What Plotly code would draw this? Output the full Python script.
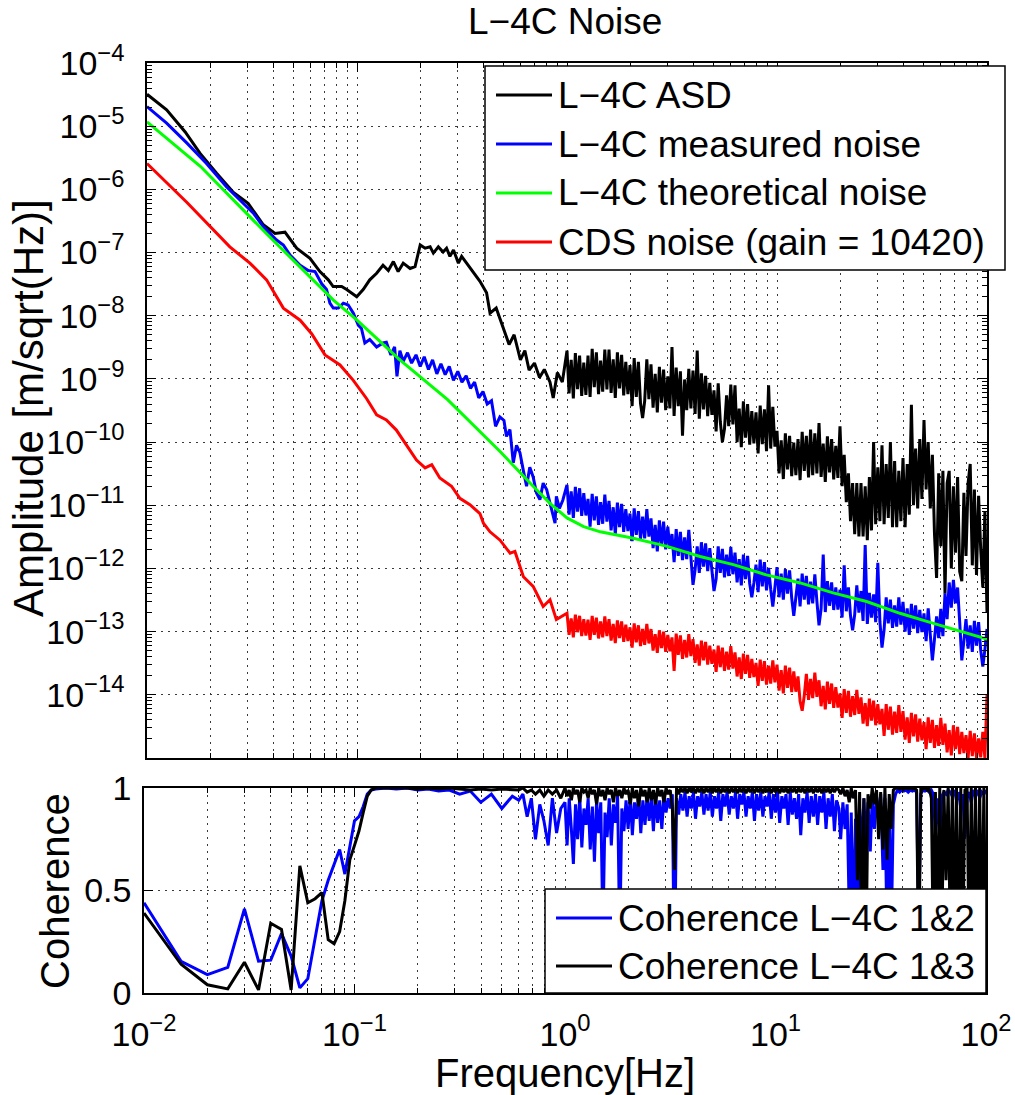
import plotly.graph_objects as go

# ---------------- data ----------------
# shared dense frequency grid 1..100 Hz
f_hi = [1.0, 1.023, 1.047, 1.072, 1.096, 1.122, 1.148, 1.175, 1.202, 1.23,
        1.259, 1.288, 1.318, 1.349, 1.38, 1.413, 1.445, 1.479, 1.514, 1.549,
        1.585, 1.622, 1.66, 1.698, 1.738, 1.778, 1.82, 1.862, 1.905, 1.95,
        1.995, 2.042, 2.089, 2.138, 2.188, 2.239, 2.291, 2.344, 2.399, 2.455,
        2.512, 2.57, 2.63, 2.692, 2.754, 2.818, 2.884, 2.951, 3.02, 3.09,
        3.162, 3.236, 3.311, 3.388, 3.467, 3.548, 3.631, 3.715, 3.802, 3.89,
        3.981, 4.074, 4.169, 4.266, 4.365, 4.467, 4.571, 4.677, 4.786, 4.898,
        5.012, 5.129, 5.248, 5.37, 5.495, 5.623, 5.754, 5.888, 6.026, 6.166,
        6.31, 6.457, 6.607, 6.761, 6.918, 7.079, 7.244, 7.413, 7.586, 7.762,
        7.943, 8.128, 8.318, 8.511, 8.71, 8.913, 9.12, 9.333, 9.55, 9.772,
        10.0, 10.23, 10.47, 10.72, 10.96, 11.22, 11.48, 11.75, 12.02, 12.3,
        12.59, 12.88, 13.18, 13.49, 13.8, 14.13, 14.45, 14.79, 15.14, 15.49,
        15.85, 16.22, 16.6, 16.98, 17.38, 17.78, 18.2, 18.62, 19.05, 19.5,
        19.95, 20.42, 20.89, 21.38, 21.88, 22.39, 22.91, 23.44, 23.99, 24.55,
        25.12, 25.7, 26.3, 26.92, 27.54, 28.18, 28.84, 29.51, 30.2, 30.9,
        31.62, 32.36, 33.11, 33.88, 34.67, 35.48, 36.31, 37.15, 38.02, 38.9,
        39.81, 40.74, 41.69, 42.66, 43.65, 44.67, 45.71, 46.77, 47.86, 48.98,
        50.12, 51.29, 52.48, 53.7, 54.95, 56.23, 57.54, 58.88, 60.26, 61.66,
        63.1, 64.57, 66.07, 67.61, 69.18, 70.79, 72.44, 74.13, 75.86, 77.62,
        79.43, 81.28, 83.18, 85.11, 87.1, 89.13, 91.2, 93.33, 95.5, 97.72,
        100.0]

# L-4C ASD (black)
asd_lo_f = [0.01, 0.0124, 0.0152, 0.0179, 0.0215, 0.0258, 0.0303, 0.0358, 0.0407, 0.0454,
            0.0516, 0.0597, 0.0666, 0.073, 0.077, 0.0845, 0.0893, 0.0997, 0.107, 0.115,
            0.124, 0.133, 0.141, 0.149, 0.157, 0.166, 0.179, 0.189, 0.2, 0.211,
            0.223, 0.231, 0.244, 0.257, 0.267, 0.277, 0.288, 0.304, 0.315, 0.333,
            0.358, 0.385, 0.414, 0.43, 0.46, 0.50, 0.53, 0.56, 0.60, 0.63,
            0.66, 0.70, 0.74, 0.78, 0.83, 0.86, 0.90, 0.95]
asd_lo = [3.2e-5, 1.82e-5, 8.1e-6, 3.7e-6, 1.78e-6, 8.9e-7, 6.0e-7, 2.75e-7, 2.0e-7, 2.1e-7,
          1.17e-7, 8.1e-8, 5.0e-8, 3.7e-8, 2.9e-8, 2.9e-8, 2.6e-8, 2.0e-8, 2.6e-8, 3.7e-8,
          4.7e-8, 6.3e-8, 5.2e-8, 7.2e-8, 5.0e-8, 6.8e-8, 5.6e-8, 6.0e-8, 1.32e-7, 1.17e-7,
          1.23e-7, 9.8e-8, 1.23e-7, 1.02e-7, 1.17e-7, 8.7e-8, 1.1e-7, 6.8e-8, 8.7e-8, 6.8e-8,
          5.0e-8, 3.5e-8, 2.3e-8, 1.1e-8, 1.32e-8, 6.0e-9, 3.5e-9, 5.0e-9, 2.0e-9, 2.8e-9,
          1.38e-9, 1.78e-9, 1.05e-9, 1.41e-9, 8.9e-10, 5.0e-10, 1.26e-9, 8.9e-10]
asd_hi = [2.8e-9, 5.9e-10, 2.0e-9, 4.9e-10, 2.57e-9, 6.9e-10, 2.34e-9, 5.4e-10, 1.82e-9, 5.6e-10,
          2.34e-9, 5.2e-10, 3.0e-9, 7.4e-10, 2.63e-9, 5.75e-10, 1.95e-9, 6.3e-10, 2.9e-9, 6.8e-10,
          2.9e-9, 6.0e-10, 2.04e-9, 5.0e-10, 2.63e-9, 7.1e-10, 2.4e-9, 5.5e-10, 1.86e-9, 5.75e-10,
          1.66e-9, 3.7e-10, 2.14e-9, 5.2e-10, 1.86e-9, 4.1e-10, 2.4e-10, 4.5e-10, 2.04e-9, 4.8e-10,
          1.7e-9, 3.5e-10, 1.2e-9, 2.95e-10, 1.55e-9, 4.2e-10, 1.41e-9, 3.2e-10, 1.1e-9, 3.4e-10,
          3.2e-9, 2.6e-10, 1.51e-9, 3.7e-10, 1.32e-9, 1.26e-10, 9.8e-10, 3.2e-10, 1.45e-9, 3.4e-10,
          1.35e-9, 2.8e-10, 2.8e-9, 2.34e-10, 1.23e-9, 3.3e-10, 1.12e-9, 2.57e-10, 8.7e-10, 2.7e-10,
          6.6e-10, 1.48e-10, 8.5e-10, 2.1e-10, 1.0e-10, 1.62e-10, 5.5e-10, 1.78e-10, 8.1e-10, 1.91e-10,
          7.9e-10, 1.0e-10, 3.4e-10, 8.3e-11, 4.4e-10, 1.17e-10, 4.0e-10, 9.1e-11, 3.1e-10, 9.5e-11,
          2.95e-10, 6.6e-11, 3.8e-10, 9.3e-11, 3.3e-10, 7.2e-11, 7.9e-10, 7.9e-11, 3.6e-10, 8.5e-11,
          1.51e-10, 3.2e-11, 1.07e-10, 2.6e-11, 1.38e-10, 3.7e-11, 1.26e-10, 2.9e-11, 9.8e-11, 3.0e-11,
          1.12e-10, 2.5e-11, 1.45e-10, 3.5e-11, 1.26e-10, 2.75e-11, 1.58e-10, 3.0e-11, 1.38e-10, 3.2e-11,
          2.0e-10, 2.8e-11, 9.5e-11, 2.34e-11, 1.23e-10, 3.3e-11, 1.12e-10, 2.57e-11, 8.7e-11, 2.7e-11,
          1.78e-10, 2.0e-11, 6.3e-11, 1.12e-11, 3.2e-11, 5.6e-12, 2.24e-11, 3.5e-12, 2.24e-11, 3.2e-12,
          2.24e-11, 3.2e-12, 2.0e-11, 2.8e-12, 2.8e-11, 4.0e-12, 1.0e-10, 5.0e-12, 4.0e-11, 5.6e-12,
          8.9e-11, 5.0e-12, 4.5e-11, 6.3e-12, 1.0e-10, 4.5e-12, 5.0e-11, 4.5e-12, 3.5e-11, 5.6e-12,
          5.6e-11, 4.5e-12, 4.5e-11, 7.1e-12, 3.9e-10, 1.0e-11, 7.9e-11, 8.9e-12, 1.12e-10, 1.26e-11,
          2.24e-10, 1.78e-11, 1.0e-10, 8.9e-12, 6.3e-11, 3.5e-12, 7.1e-13, 3.2e-11, 2.24e-12, 3.5e-11,
          4.0e-13, 2.24e-11, 3.5e-11, 1.0e-12, 2.0e-11, 1.78e-12, 2.8e-11, 8.9e-13, 6.3e-13, 1.58e-11,
          1.58e-12, 2.24e-11, 4.5e-11, 1.12e-12, 1.78e-11, 7.9e-13, 1.41e-11, 2.0e-12, 5.0e-13, 7.9e-12,
          2.0e-13]

# L-4C measured noise (blue)
meas_lo_f = [0.01, 0.0124, 0.0155, 0.0192, 0.0239, 0.0277, 0.0321, 0.0358, 0.0414, 0.0446,
             0.048, 0.0536, 0.0586, 0.0631, 0.0679, 0.0716, 0.0743, 0.0771, 0.0815, 0.0861,
             0.0908, 0.0961, 0.1014, 0.105, 0.109, 0.115, 0.124, 0.133, 0.138, 0.145,
             0.151, 0.155, 0.16, 0.166, 0.174, 0.182, 0.191, 0.2, 0.209, 0.219,
             0.229, 0.24, 0.251, 0.263, 0.275, 0.288, 0.302, 0.316, 0.331, 0.347,
             0.363, 0.38, 0.398, 0.417, 0.437, 0.457, 0.479, 0.501, 0.515, 0.535,
             0.555, 0.575, 0.597, 0.62, 0.642, 0.665, 0.69, 0.715, 0.743, 0.77,
             0.80, 0.835, 0.877, 0.89, 0.92, 0.955]
meas_lo = [2.04e-5, 1.12e-5, 5.4e-6, 2.57e-6, 1.1e-6, 6.8e-7, 4.2e-7, 2.57e-7, 1.58e-7, 1.32e-7,
           9.1e-8, 6.3e-8, 5.2e-8, 5.0e-8, 3.2e-8, 2.6e-8, 1.58e-8, 1.32e-8, 1.32e-8, 1.58e-8,
           1.48e-8, 1.1e-8, 7.1e-9, 6.3e-9, 3.7e-9, 4.2e-9, 3.2e-9, 3.7e-9, 3.8e-9, 2.4e-9,
           3.2e-9, 1.1e-9, 2.8e-9, 1.9e-9, 2.6e-9, 1.78e-9, 2.4e-9, 1.58e-9, 2.24e-9, 1.41e-9,
           2.0e-9, 1.2e-9, 1.74e-9, 1.17e-9, 1.58e-9, 9.5e-10, 1.32e-9, 8.9e-10, 1.12e-9, 7.1e-10,
           8.9e-10, 5.0e-10, 6.3e-10, 4.0e-10, 4.5e-10, 1.78e-10, 2.5e-10, 2.2e-10, 1.23e-10, 1.58e-10,
           4.7e-11, 8.9e-11, 6.8e-11, 3.5e-11, 2.0e-11, 4.0e-11, 2.8e-11, 1.58e-11, 1.23e-11, 2.24e-11,
           1.78e-11, 1.0e-11, 5.2e-12, 1.38e-11, 8.9e-12, 1.2e-11]
meas_hi = [2.1e-11, 7.1e-12, 1.66e-11, 6.3e-12, 1.95e-11, 7.9e-12, 1.86e-11, 6.8e-12, 1.55e-11, 6.9e-12,
           1.26e-11, 4.6e-12, 1.51e-11, 5.75e-12, 1.38e-11, 4.9e-12, 1.12e-11, 5.1e-12, 1.48e-11, 5.5e-12,
           1.17e-11, 4.0e-12, 9.3e-12, 3.5e-12, 1.1e-11, 4.5e-12, 1.05e-11, 3.8e-12, 8.7e-12, 3.9e-12,
           7.4e-12, 2.7e-12, 8.9e-12, 3.4e-12, 8.1e-12, 2.9e-12, 6.6e-12, 3.0e-12, 8.7e-12, 3.2e-12,
           6.2e-12, 2.1e-12, 4.9e-12, 1.86e-12, 5.75e-12, 2.34e-12, 5.5e-12, 2.0e-12, 4.6e-12, 2.04e-12,
           3.5e-12, 1.26e-12, 4.2e-12, 1.58e-12, 3.8e-12, 1.35e-12, 3.1e-12, 1.41e-12, 4.1e-12, 1.51e-12,
           5.5e-13, 9.5e-13, 2.24e-12, 8.5e-13, 2.6e-12, 1.07e-12, 2.5e-12, 9.1e-13, 2.1e-12, 9.3e-13,
           4.4e-13, 6.8e-13, 2.24e-12, 8.5e-13, 2.04e-12, 7.2e-13, 1.66e-12, 7.6e-13, 2.2e-12, 8.1e-13,
           1.78e-12, 6.0e-13, 1.41e-12, 5.4e-13, 1.66e-12, 6.8e-13, 1.58e-12, 5.75e-13, 3.5e-13, 5.9e-13,
           1.15e-12, 4.2e-13, 1.38e-12, 5.2e-13, 1.26e-12, 4.5e-13, 1.02e-12, 4.7e-13, 2.5e-13, 5.0e-13,
           1.05e-12, 3.5e-13, 8.3e-13, 3.2e-13, 9.8e-13, 4.0e-13, 9.3e-13, 3.4e-13, 1.78e-13, 3.5e-13,
           6.9e-13, 2.5e-13, 8.3e-13, 3.2e-13, 7.6e-13, 2.7e-13, 6.2e-13, 2.8e-13, 8.1e-13, 3.0e-13,
           1.26e-13, 2.3e-13, 1.66e-12, 2.04e-13, 6.3e-13, 2.57e-13, 6.0e-13, 2.2e-13, 5.0e-13, 2.24e-13,
           4.6e-13, 1.66e-13, 1.12e-12, 2.1e-13, 5.0e-13, 1.78e-13, 1.05e-13, 1.86e-13, 5.4e-13, 2.0e-13,
           4.4e-13, 1.48e-13, 2.34e-12, 1.32e-13, 4.1e-13, 1.66e-13, 3.9e-13, 1.41e-13, 1.23e-12, 1.45e-13,
           5.6e-14, 1.07e-13, 3.5e-13, 1.35e-13, 3.2e-13, 1.15e-13, 2.6e-13, 1.2e-13, 3.5e-13, 1.29e-13,
           2.95e-13, 1.0e-13, 2.34e-13, 8.9e-14, 2.75e-13, 1.12e-13, 2.6e-13, 9.5e-14, 2.2e-13, 9.8e-14,
           1.95e-13, 7.1e-14, 2.34e-13, 8.9e-14, 3.5e-14, 7.6e-14, 1.74e-13, 7.9e-14, 2.3e-13, 8.5e-14,
           4.0e-13, 1.58e-13, 6.0e-13, 2.4e-13, 6.6e-13, 2.8e-13, 5.0e-13, 1.41e-13, 3.5e-14, 7.1e-14,
           1.58e-13, 5.4e-14, 1.26e-13, 4.8e-14, 1.48e-13, 6.0e-14, 1.41e-13, 5.1e-14, 2.8e-14, 5.2e-14,
           1.1e-13]

# L-4C theoretical noise (green)
theo_f = [0.01, 0.018, 0.037, 0.077, 0.1, 0.16, 0.27, 0.48, 0.69, 0.83,
          1.0, 1.2, 1.44, 2.07, 3.0, 4.3, 6.2, 8.9, 12.9, 18.5,
          26.7, 38.5, 55.6, 80.0, 100.0]
theo = [1.17e-5, 2.3e-6, 2.0e-7, 1.78e-8, 8.5e-9, 2.0e-9, 4.7e-10, 7.1e-11, 2.0e-11, 1.07e-11,
        6.3e-12, 4.6e-12, 3.8e-12, 3.0e-12, 2.24e-12, 1.55e-12, 1.15e-12, 7.9e-13, 5.9e-13, 4.1e-13,
        3.0e-13, 1.95e-13, 1.35e-13, 9.5e-14, 7.6e-14]

# CDS noise (red)
cds_lo_f = [0.01, 0.0155, 0.0248, 0.0309, 0.0371, 0.0446, 0.0536, 0.0608, 0.0704, 0.083,
            0.096, 0.111, 0.124, 0.138, 0.154, 0.173, 0.192, 0.211, 0.227, 0.248,
            0.282, 0.309, 0.345, 0.385, 0.40, 0.43, 0.48, 0.536, 0.565, 0.62,
            0.69, 0.77, 0.83, 0.89]
cds_lo = [2.57e-6, 6.2e-7, 1.23e-7, 6.8e-8, 3.7e-8, 1.32e-8, 8.5e-9, 5.2e-9, 2.4e-9, 1.66e-9,
          9.5e-10, 4.9e-10, 2.7e-10, 2.24e-10, 1.55e-10, 8.5e-11, 5.2e-11, 3.9e-11, 4.4e-11, 2.7e-11,
          2.0e-11, 1.29e-11, 1.02e-11, 7.4e-12, 5.2e-12, 3.8e-12, 2.8e-12, 1.74e-12, 1.86e-12, 7.4e-13,
          5.2e-13, 2.5e-13, 3.2e-13, 1.55e-13]
cds_hi = [1.95e-13, 8.9e-14, 1.62e-13, 8.1e-14, 1.86e-13, 9.8e-14, 1.78e-13, 8.5e-14, 1.58e-13, 8.7e-14,
          1.55e-13, 7.4e-14, 1.78e-13, 8.9e-14, 1.66e-13, 7.8e-14, 1.45e-13, 8.1e-14, 1.74e-13, 8.5e-14,
          1.58e-13, 7.2e-14, 1.32e-13, 6.6e-14, 1.51e-13, 7.9e-14, 1.45e-13, 6.9e-14, 1.29e-13, 7.1e-14,
          1.17e-13, 5.6e-14, 1.35e-13, 6.8e-14, 1.26e-13, 5.9e-14, 1.1e-13, 6.2e-14, 1.32e-13, 6.5e-14,
          1.1e-13, 5.0e-14, 9.1e-14, 4.6e-14, 1.05e-13, 5.5e-14, 1.0e-13, 4.8e-14, 8.9e-14, 4.9e-14,
          8.1e-14, 2.4e-14, 9.3e-14, 4.3e-14, 8.7e-14, 3.7e-14, 7.4e-14, 3.9e-14, 9.1e-14, 4.1e-14,
          7.6e-14, 3.2e-14, 6.3e-14, 2.9e-14, 7.2e-14, 3.5e-14, 6.9e-14, 3.0e-14, 6.0e-14, 3.1e-14,
          5.2e-14, 2.3e-14, 6.0e-14, 2.75e-14, 5.6e-14, 2.4e-14, 4.8e-14, 2.5e-14, 5.9e-14, 2.6e-14,
          4.7e-14, 1.95e-14, 3.9e-14, 1.78e-14, 4.5e-14, 2.14e-14, 4.3e-14, 1.86e-14, 3.7e-14, 1.91e-14,
          3.2e-14, 1.38e-14, 3.6e-14, 1.66e-14, 3.4e-14, 1.45e-14, 2.9e-14, 1.51e-14, 3.5e-14, 1.58e-14,
          3.0e-14, 1.17e-14, 2.45e-14, 1.05e-14, 2.9e-14, 1.29e-14, 2.7e-14, 1.1e-14, 2.34e-14, 1.12e-14,
          1.95e-14, 7.9e-15, 5.6e-15, 9.8e-15, 2.14e-14, 8.3e-15, 1.78e-14, 8.9e-15, 2.24e-14, 9.3e-15,
          1.7e-14, 6.6e-15, 1.38e-14, 5.9e-15, 1.62e-14, 7.2e-15, 1.51e-14, 6.2e-15, 1.32e-14, 6.3e-15,
          1.05e-14, 4.3e-15, 1.23e-14, 5.2e-15, 1.15e-14, 4.5e-15, 9.5e-15, 4.8e-15, 1.2e-14, 5.0e-15,
          9.1e-15, 3.5e-15, 7.4e-15, 3.2e-15, 8.7e-15, 3.9e-15, 8.1e-15, 3.3e-15, 7.1e-15, 3.4e-15,
          6.0e-15, 2.24e-15, 7.1e-15, 2.8e-15, 6.5e-15, 2.34e-15, 5.4e-15, 2.5e-15, 6.9e-15, 2.6e-15,
          5.5e-15, 1.95e-15, 4.4e-15, 1.74e-15, 5.2e-15, 2.2e-15, 4.9e-15, 1.82e-15, 4.2e-15, 1.91e-15,
          3.7e-15, 1.38e-15, 4.4e-15, 1.74e-15, 4.0e-15, 1.45e-15, 3.3e-15, 1.55e-15, 4.3e-15, 1.62e-15,
          3.5e-15, 1.23e-15, 2.75e-15, 1.1e-15, 3.3e-15, 1.38e-15, 3.1e-15, 1.15e-15, 2.6e-15, 1.2e-15,
          2.3e-15, 1.0e-15, 2.7e-15, 1.07e-15, 2.45e-15, 1.0e-15, 2.04e-15, 1.02e-15, 2.6e-15, 1.0e-15,
          1.0e-14]

# coherence frequency grid (the 1..19.5 Hz part re-uses f_hi)
coh_f_lo = [0.01, 0.015, 0.02, 0.025, 0.03, 0.035, 0.04, 0.045, 0.05, 0.055,
            0.06, 0.065, 0.07, 0.075, 0.08, 0.085, 0.09, 0.095, 0.1, 0.105,
            0.11, 0.115, 0.12]
coh_f_mid = [0.126, 0.141, 0.158, 0.178, 0.2, 0.224, 0.251, 0.282, 0.316, 0.355,
             0.398, 0.447, 0.501, 0.562, 0.603, 0.631, 0.661, 0.692, 0.724, 0.759,
             0.794, 0.832, 0.871, 0.912, 0.955]
coh_f_top = [20.0, 20.4, 20.9, 21.4, 21.9, 22.4, 22.9, 23.4, 24.0, 24.5,
             25.1, 25.7, 26.3, 26.9, 27.5, 28.2, 28.8, 29.5, 30.2, 30.9,
             31.6, 32.4, 33.1, 33.9, 34.7, 35.5, 36.3, 37.2, 38.0, 38.9,
             39.8, 40.7, 41.7, 42.7, 43.7, 44.7, 45.7, 46.8, 47.9, 49.0,
             50.1, 51.3, 52.5, 53.7, 55.0, 56.2, 57.5, 58.9, 60.3, 61.7,
             63.1, 64.6, 66.1, 67.6, 69.2, 70.8, 72.4, 74.1, 75.9, 77.6,
             79.4, 81.3, 83.2, 85.1, 87.1, 89.1, 91.2, 93.3, 95.5, 97.7,
             100.0]

# Coherence L-4C 1&2 (blue)
coh12_lo = [0.44, 0.155, 0.09, 0.125, 0.41, 0.155, 0.16, 0.29, 0.18, 0.025,
            0.07, 0.26, 0.45, 0.55, 0.63, 0.70, 0.58, 0.72, 0.84, 0.86,
            0.91, 0.97, 0.99]
coh12_mid = [0.995, 1.0, 0.995, 1.0, 0.99, 0.995, 0.985, 0.99, 0.97, 0.985,
             0.93, 0.97, 0.90, 0.96, 0.94, 0.97, 0.86, 0.95, 0.75, 0.92,
             0.84, 0.72, 0.95, 0.78, 0.90]
coh12_hi = [0.93, 0.72, 0.95, 0.80, 0.63, 0.92, 0.75, 0.96, 0.71, 0.90,
            0.82, 0.95, 0.70, 0.91, 0.64, 0.94, 0.78, 0.93, 0.30, 0.88,
            0.76, 0.95, 0.72, 0.92, 0.83, 0.96, 0.25, 0.90, 0.79, 0.94,
            0.80, 0.96, 0.77, 0.93, 0.85, 0.97, 0.78, 0.94, 0.82, 0.96,
            0.84, 0.95, 0.79, 0.97, 0.83, 0.94, 0.80, 0.96, 0.88, 0.95,
            0.90, 0.97, 0.05, 0.95, 0.87, 0.97, 0.89, 0.98, 0.86, 0.96,
            0.90, 0.98, 0.85, 0.96, 0.91, 0.98, 0.87, 0.97, 0.89, 0.98,
            0.86, 0.96, 0.90, 0.98, 0.84, 0.97, 0.91, 0.98, 0.87, 0.96,
            0.90, 0.98, 0.85, 0.97, 0.92, 0.98, 0.86, 0.96, 0.90, 0.98,
            0.84, 0.97, 0.89, 0.98, 0.86, 0.96, 0.91, 0.98, 0.85, 0.97,
            0.88, 0.98, 0.83, 0.96, 0.90, 0.97, 0.82, 0.98, 0.87, 0.95,
            0.85, 0.97, 0.77, 0.95, 0.88, 0.98, 0.83, 0.96, 0.86, 0.97,
            0.82, 0.96, 0.88, 0.98, 0.80, 0.95, 0.86, 0.97, 0.79, 0.94]
coh12_top = [0.90, 0.75, 0.93, 0.80, 0.92, 0.40, 0.88, 0.30, 0.85, 0.20,
             0.90, 0.70, 0.95, 0.72, 0.93, 0.69, 0.95, 0.80, 0.96, 0.84,
             0.97, 0.60, 0.95, 0.25, 0.90, 0.30, 0.92, 0.97, 0.99, 0.98,
             0.99, 0.985, 0.99, 0.98, 0.99, 0.985, 0.99, 0.98, 0.30, 0.97,
             0.99, 0.985, 0.99, 0.98, 0.99, 0.97, 0.78, 0.95, 0.77, 0.96,
             0.98, 0.97, 0.99, 0.98, 0.96, 0.99, 0.94, 0.98, 0.90, 0.97,
             0.76, 0.95, 0.98, 0.93, 0.99, 0.96, 0.99, 0.95, 0.98, 0.97,
             0.99]

# Coherence L-4C 1&3 (black)
coh13_lo = [0.39, 0.14, 0.04, 0.02, 0.15, 0.015, 0.34, 0.31, 0.015, 0.62,
            0.44, 0.46, 0.49, 0.26, 0.24, 0.30, 0.45, 0.65, 0.72, 0.79,
            0.88, 0.96, 0.99]
coh13_mid = [1.0, 1.0, 1.0, 1.0, 0.995, 1.0, 0.995, 1.0, 0.995, 0.99,
             0.995, 0.99, 0.995, 0.99, 0.99, 1.0, 0.98, 0.99, 0.97, 0.99,
             0.96, 0.99, 0.97, 0.99, 0.95]
coh13_hi = [1.0, 0.96, 0.99, 0.94, 1.0, 0.97, 0.99, 0.93, 1.0, 0.98,
            0.99, 0.95, 1.0, 0.97, 0.99, 0.92, 1.0, 0.96, 0.99, 0.94,
            1.0, 0.97, 0.99, 0.93, 1.0, 0.96, 0.99, 0.95, 1.0, 0.97,
            0.99, 0.92, 1.0, 0.95, 0.99, 0.91, 1.0, 0.96, 0.99, 0.93,
            1.0, 0.94, 0.99, 0.92, 1.0, 0.96, 0.99, 0.93, 1.0, 0.97,
            0.99, 0.90, 0.60, 1.0, 0.97, 1.0, 0.98, 1.0, 0.975, 1.0,
            0.98, 1.0, 0.975, 1.0, 0.98, 1.0, 0.975, 1.0, 0.98, 1.0,
            0.975, 1.0, 0.98, 1.0, 0.975, 1.0, 0.98, 1.0, 0.975, 1.0,
            0.98, 1.0, 0.975, 1.0, 0.98, 1.0, 0.975, 1.0, 0.98, 1.0,
            0.975, 1.0, 0.98, 1.0, 0.975, 1.0, 0.98, 1.0, 0.975, 1.0,
            0.98, 1.0, 0.975, 1.0, 0.98, 1.0, 0.975, 1.0, 0.98, 1.0,
            0.975, 1.0, 0.98, 1.0, 0.975, 1.0, 0.98, 1.0, 0.975, 1.0,
            0.98, 1.0, 0.975, 1.0, 0.98, 1.0, 0.975, 1.0, 0.98, 1.0]
coh13_top = [0.99, 0.97, 1.0, 0.96, 0.99, 0.93, 1.0, 0.95, 0.99, 0.55,
             0.98, 0.20, 0.95, 0.15, 0.97, 0.90, 1.0, 0.92, 0.99, 0.75,
             0.98, 0.70, 1.0, 0.65, 0.97, 0.80, 0.99, 1.0, 1.0, 0.995,
             1.0, 0.995, 1.0, 0.995, 1.0, 0.995, 1.0, 0.99, 0.10, 1.0,
             0.995, 1.0, 0.99, 1.0, 0.95, 0.20, 0.98, 0.25, 1.0, 0.30,
             0.99, 0.55, 1.0, 0.30, 1.0, 0.20, 1.0, 0.15, 1.0, 0.20,
             0.99, 1.0, 0.15, 1.0, 0.25, 1.0, 0.15, 1.0, 0.20, 1.0,
             0.10]

# legend labels and tick labels
top_names = ["L\u22124C ASD", "L\u22124C measured noise", "L\u22124C theoretical noise",
             "CDS noise (gain = 10420)"]
top_colors = ["#000000", "#0000ff", "#00ff00", "#ff0000"]
coh_names = ["Coherence L\u22124C 1&2", "Coherence L\u22124C 1&3"]
coh_colors = ["#0000ff", "#000000"]
amp_tick_exp = [-14, -13, -12, -11, -10, -9, -8, -7, -6, -5, -4]
freq_tick_exp = [-2, -1, 0, 1, 2]
coh_ticks = [0, 0.5, 1]
coh_tick_text = ["0", "0.5", "1"]

# ---------------- figure ----------------
W, H = 1015, 1095
FONT = "Liberation Sans, Arial, Helvetica, sans-serif"


def px(xp):
    return xp / W


def py(yp):
    return 1 - yp / H


def join(a_f, a_v, b_f, b_v):
    n1 = min(len(a_f), len(a_v))
    n2 = min(len(b_f), len(b_v))
    return list(a_f[:n1]) + list(b_f[:n2]), list(a_v[:n1]) + list(b_v[:n2])


fig = go.Figure()

top_series = [join(asd_lo_f, asd_lo, f_hi, asd_hi),
              join(meas_lo_f, meas_lo, f_hi, meas_hi),
              (theo_f, theo),
              join(cds_lo_f, cds_lo, f_hi, cds_hi)]
for (x, y), name, col in zip(top_series, top_names, top_colors):
    fig.add_trace(go.Scatter(x=x, y=y, mode="lines", name=name, showlegend=False,
                             line=dict(color=col, width=3), xaxis="x", yaxis="y"))

coh_f = coh_f_lo + coh_f_mid + f_hi[:130] + coh_f_top
coh_series = [coh12_lo + coh12_mid + coh12_hi + coh12_top,
              coh13_lo + coh13_mid + coh13_hi + coh13_top]
for vals, name, col in zip(coh_series, coh_names, coh_colors):
    n = min(len(coh_f), len(vals))
    fig.add_trace(go.Scatter(x=coh_f[:n], y=vals[:n], mode="lines", name=name, showlegend=False,
                             line=dict(color=col, width=3), xaxis="x2", yaxis="y2"))

minor_x = [m * 10.0 ** e for e in range(-2, 2) for m in range(2, 10)]
minor_y = [m * 10.0 ** e for e in range(-15, -4) for m in range(2, 10)]
GRID = "#3a3a3a"
DASH = "1.5px,5.5px"

axis_common = dict(showline=True, linecolor="black", linewidth=1.5, mirror="ticks",
                   ticks="inside", ticklen=9, tickwidth=1.2, tickcolor="black",
                   showgrid=True, gridcolor=GRID, griddash=DASH, gridwidth=1,
                   zeroline=False, automargin=False,
                   tickfont=dict(family=FONT, size=34, color="black"))
minor_x_cfg = dict(tickvals=minor_x, ticks="inside", ticklen=5, tickcolor="black",
                   showgrid=True, gridcolor=GRID, griddash=DASH, gridwidth=1)

fig.update_layout(
    width=W, height=H, autosize=False,
    margin=dict(l=0, r=0, t=0, b=0, pad=0),
    paper_bgcolor="white", plot_bgcolor="white",
    font=dict(family=FONT, color="black"),
    showlegend=False,
    xaxis=dict(axis_common, type="log", range=[-2, 2], domain=[px(147), px(987)], anchor="y",
               tickvals=[10.0 ** e for e in freq_tick_exp], showticklabels=False,
               minor=minor_x_cfg),
    yaxis=dict(axis_common, type="log", range=[-15, -4], domain=[py(758), py(63)], anchor="x",
               tickvals=[10.0 ** e for e in amp_tick_exp],
               ticktext=["10<sup>\u2212%d</sup>" % (-e) for e in amp_tick_exp],
               ticklabelstandoff=14,
               minor=dict(tickvals=minor_y, ticks="inside", ticklen=5, tickcolor="black",
                          showgrid=False)),
    xaxis2=dict(axis_common, type="log", range=[-2, 2], domain=[px(144), px(986)], anchor="y2",
                tickvals=[10.0 ** e for e in freq_tick_exp],
                ticktext=[("10<sup>\u2212%d</sup>" % (-e)) if e < 0 else ("10<sup>%d</sup>" % e)
                          for e in freq_tick_exp],
                ticklabelstandoff=10, minor=minor_x_cfg),
    yaxis2=dict(axis_common, range=[0, 1], domain=[py(993), py(788)], anchor="x2",
                tickvals=coh_ticks, ticktext=coh_tick_text, ticklabelstandoff=4),
)


# legends (box + line sample + label), drawn above the data like MATLAB legends
def add_legend(box, rows, names, colors, line_x0, line_x1, text_x):
    x0, y0, x1, y1 = box
    fig.add_shape(type="rect", xref="paper", yref="paper", layer="above",
                  x0=px(x0), x1=px(x1), y0=py(y1), y1=py(y0),
                  fillcolor="white", line=dict(color="black", width=1.5))
    for ry, name, col in zip(rows, names, colors):
        fig.add_shape(type="line", xref="paper", yref="paper", layer="above",
                      x0=px(line_x0), x1=px(line_x1), y0=py(ry), y1=py(ry),
                      line=dict(color=col, width=3))
        fig.add_annotation(text=name, x=px(text_x), y=py(ry), xref="paper", yref="paper",
                           showarrow=False, xanchor="left", yanchor="middle",
                           font=dict(family=FONT, size=37, color="black"))


add_legend((485, 66, 1005, 270), [95, 144, 193, 242], top_names, top_colors, 496, 552, 556)
add_legend((545, 889, 986, 993), [918, 966], coh_names, coh_colors, 556, 612, 616)

fig.add_annotation(text="L\u22124C Noise", x=px(565), y=py(22), xref="paper", yref="paper",
                   showarrow=False, xanchor="center", yanchor="middle",
                   font=dict(family=FONT, size=37, color="black"))
fig.add_annotation(text="Amplitude [m/sqrt(Hz)]", x=px(28), y=py(408), xref="paper", yref="paper",
                   showarrow=False, textangle=-90, xanchor="center", yanchor="middle",
                   font=dict(family=FONT, size=42, color="black"))
fig.add_annotation(text="Coherence", x=px(55), y=py(891), xref="paper", yref="paper",
                   showarrow=False, textangle=-90, xanchor="center", yanchor="middle",
                   font=dict(family=FONT, size=40, color="black"))
fig.add_annotation(text="Frequency[Hz]", x=px(565), y=py(1073), xref="paper", yref="paper",
                   showarrow=False, xanchor="center", yanchor="middle",
                   font=dict(family=FONT, size=40, color="black"))

fig.write_html("out.html", config={"displayModeBar": False},
               post_script="document.body.style.margin='0';")
